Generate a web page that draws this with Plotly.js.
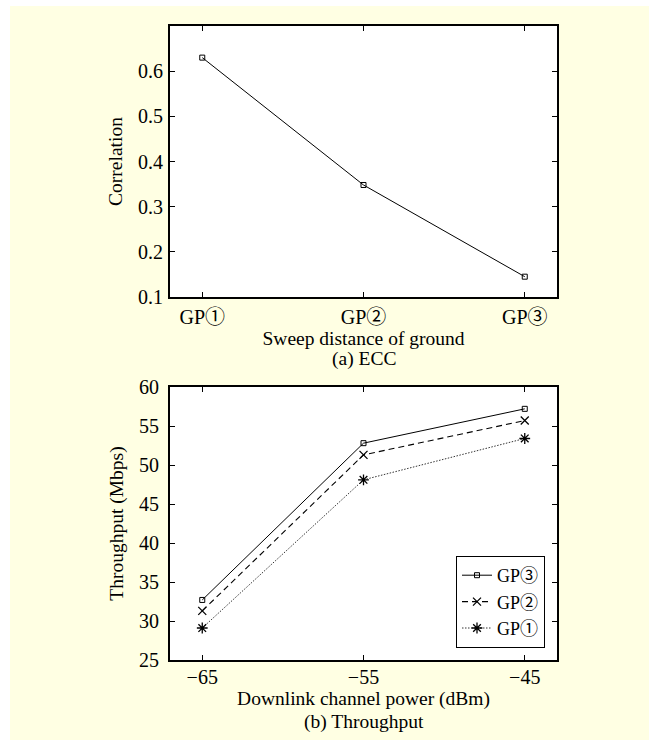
<!DOCTYPE html>
<html>
<head>
<meta charset="utf-8">
<script src="https://cdn.plot.ly/plotly-3.0.1.min.js"></script>
<style>html,body{margin:0;padding:0;background:#fff;}#chart{width:649px;height:740px;}</style>
</head>
<body>
<div id="chart"></div>
<script>
// ---- data ----
const gpLabels = ['GP\u2460', 'GP\u2461', 'GP\u2462'];
const eccValues = [0.630, 0.348, 0.145];
const eccTicks = [0.1, 0.2, 0.3, 0.4, 0.5, 0.6];

const powerDbm = [-65, -55, -45];
const thrGP3 = [32.7, 52.8, 57.2];
const thrGP2 = [31.3, 51.3, 55.7];
const thrGP1 = [29.1, 48.1, 53.4];
const powerTicks = [-65, -55, -45];
const thrTicks = [25, 30, 35, 40, 45, 50, 55, 60];

const seriesNames = ['GP\u2462', 'GP\u2461', 'GP\u2460'];

// ---- style ----
const FONT = '"Liberation Serif", "Times New Roman", "Noto Sans CJK SC", serif';
const CREAM = 'rgb(255,255,227)';
const fs = 19.5;
const tfs = 20;

const axisCommon = {
  showline: true, linecolor: '#000', linewidth: 2, mirror: 'ticks',
  ticks: 'inside', ticklen: 5, tickwidth: 1, tickcolor: '#000',
  showgrid: false, zeroline: false,
  tickfont: {family: FONT, size: tfs, color: '#000'}
};

const traces = [
  {x: gpLabels, y: eccValues, xaxis: 'x', yaxis: 'y', type: 'scatter', mode: 'lines+markers',
   line: {color: '#000', width: 1}, marker: {symbol: 'square-open', size: 5, color: '#000', line: {width: 1, color: '#000'}},
   showlegend: false, name: 'ECC'},
  {x: powerDbm, y: thrGP3, xaxis: 'x2', yaxis: 'y2', type: 'scatter', mode: 'lines+markers', name: seriesNames[0],
   line: {color: '#000', width: 1, dash: 'solid'}, marker: {symbol: 'square-open', size: 5, color: '#000', line: {width: 1, color: '#000'}}},
  {x: powerDbm, y: thrGP2, xaxis: 'x2', yaxis: 'y2', type: 'scatter', mode: 'lines+markers', name: seriesNames[1],
   line: {color: '#000', width: 1.1, dash: '6px,4px'}, marker: {symbol: 'x-thin-open', size: 8, color: '#000', line: {width: 1.3, color: '#000'}}},
  {x: powerDbm, y: thrGP1, xaxis: 'x2', yaxis: 'y2', type: 'scatter', mode: 'lines+markers', name: seriesNames[2],
   line: {color: '#000', width: 0.8, dash: '1.5px,1.5px'}, marker: {symbol: 'asterisk-open', size: 9, color: '#000', line: {width: 1.3, color: '#000'}}}
];

const L = 170, R = 557, T = 26, B = 660, W = 649, H = 740;
const pw = R - L, ph = B - T;
const py = v => (B - v) / ph;   // pixel y -> paper y
const px = v => (v - L) / pw;   // pixel x -> paper x

const layout = {
  width: W, height: H,
  margin: {l: L, r: W - R, t: T, b: H - B, pad: 0},
  paper_bgcolor: CREAM, plot_bgcolor: '#fff',
  font: {family: FONT, size: fs, color: '#000'},
  showlegend: true,
  xaxis: Object.assign({}, axisCommon, {
    type: 'category', range: [-0.2, 2.2], anchor: 'y', domain: [0, 1],
    ticklabelstandoff: 1,
    title: {text: 'Sweep distance of ground', font: {family: FONT, size: fs}, standoff: 2}
  }),
  yaxis: Object.assign({}, axisCommon, {
    range: [0.1, 0.7], tickvals: eccTicks, ticktext: eccTicks.map(v => v.toFixed(1)),
    domain: [py(297), 1], anchor: 'x', ticklabelstandoff: 1,
    title: {text: 'Correlation', font: {family: FONT, size: fs}, standoff: 10}
  }),
  xaxis2: Object.assign({}, axisCommon, {
    range: [-67, -43], tickvals: powerTicks, anchor: 'y2', domain: [0, 1],
    ticklabelstandoff: -2,
    title: {text: 'Downlink channel power (dBm)', font: {family: FONT, size: fs}, standoff: 2}
  }),
  yaxis2: Object.assign({}, axisCommon, {
    range: [25, 60], tickvals: thrTicks, domain: [0, py(387)], anchor: 'x2', ticklabelstandoff: 5,
    title: {text: 'Throughput (Mbps)', font: {family: FONT, size: fs}, standoff: 10}
  }),
  legend: {
    x: px(545), y: py(648), xanchor: 'right', yanchor: 'bottom',
    bgcolor: '#fff', bordercolor: '#000', borderwidth: 1,
    font: {family: FONT, size: 18, color: '#000'},
    itemwidth: 30, tracegroupgap: 0
  },
  annotations: [
    {text: '(a) ECC', xref: 'paper', yref: 'paper', x: 0.5, y: py(359), xanchor: 'center', yanchor: 'middle', showarrow: false, font: {family: FONT, size: fs}},
    {text: '(b) Throughput', xref: 'paper', yref: 'paper', x: 0.5, y: py(722), xanchor: 'center', yanchor: 'middle', showarrow: false, font: {family: FONT, size: fs}}
  ],
  shapes: [
    {type: 'rect', xref: 'paper', yref: 'paper', x0: px(0), x1: px(10), y0: py(H + 5), y1: py(-5), fillcolor: '#fff', line: {width: 0}, layer: 'below'},
    {type: 'rect', xref: 'paper', yref: 'paper', x0: px(0), x1: px(W + 5), y0: py(6), y1: py(-5), fillcolor: '#fff', line: {width: 0}, layer: 'below'}
  ]
};

Plotly.newPlot('chart', traces, layout, {displayModeBar: false, staticPlot: true});
</script>
</body>
</html>
